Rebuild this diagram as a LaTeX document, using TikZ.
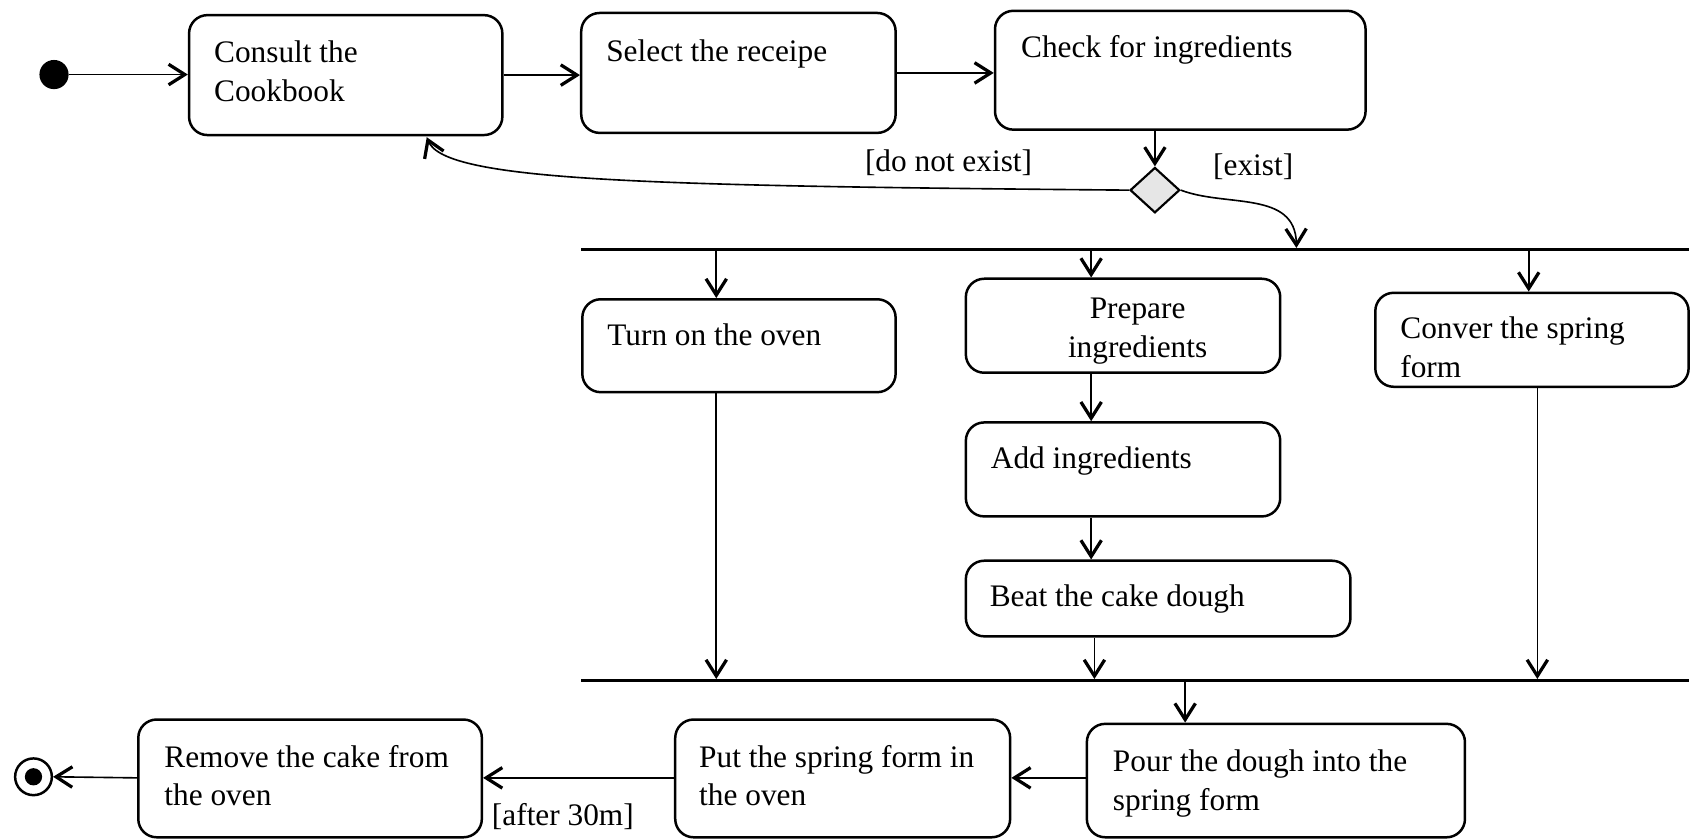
\documentclass[tikz,border=0pt]{standalone}
\usepackage{fontspec}
\setmainfont{Liberation Serif}
\usetikzlibrary{arrows.meta,shapes.geometric,calc}
\definecolor{decgray}{HTML}{E6E6E6}
\begin{document}
\begin{tikzpicture}[x=1pt,y=-1pt,
  act/.style={draw, line width=2.3pt, rounded corners=17pt, inner sep=0pt},
  txt/.style={anchor=base west, inner sep=0pt, align=left, font=\fontsize{29}{36}\selectfont},
  guard/.style={anchor=base, inner sep=0pt, font=\fontsize{29}{36}\selectfont},
  flow/.style={line width=1.5pt, -{Straight Barb[length=15pt,width=19pt,line width=3pt]}},
  bar/.style={fill=black, inner sep=0pt, minimum height=2.6pt, minimum width=1025pt},
]
\useasboundingbox (0,0) rectangle (1568,777);

% initial and final states
\node[circle, fill, minimum size=27pt, inner sep=0pt] (start) at (50,69) {};
\node[circle, draw, line width=2.3pt, minimum size=34pt, inner sep=0pt] (final) at (31,719) {};
\node[circle, fill, minimum size=16pt, inner sep=0pt] (finaldot) at (final) {};

% actions
\node[act, minimum width=290pt, minimum height=111pt] (consult) at (320,69.5) {};
\node[act, minimum width=291pt, minimum height=111pt] (select)  at (683.5,67.5) {};
\node[act, minimum width=343pt, minimum height=110pt] (check)   at (1092.5,65) {};
\node[act, minimum width=290pt, minimum height=86pt]  (turn)    at (684,320) {};
\node[act, minimum width=291pt, minimum height=87pt]  (prep)    at (1039.5,301.5) {};
\node[act, minimum width=290pt, minimum height=87pt]  (conver)  at (1418,314.5) {};
\node[act, minimum width=291pt, minimum height=87pt]  (add)     at (1039.5,434.5) {};
\node[act, minimum width=356pt, minimum height=70pt]  (beat)    at (1072,554) {};
\node[act, minimum width=350pt, minimum height=105pt] (pour)    at (1181,722.5) {};
\node[act, minimum width=310pt, minimum height=109pt] (put)     at (780,720.5) {};
\node[act, minimum width=318pt, minimum height=109pt] (remove)  at (287,720.5) {};

% action labels (multi-line labels sit on the baseline of their last line)
\node[txt] (consultT) at (198,94)  {Consult the\\Cookbook};
\node[txt] (selectT)  at (561,57)  {Select the receipe};
\node[txt] (checkT)   at (945,53)  {Check for ingredients};
\node[txt] (turnT)    at (562,320) {Turn on the oven};
\node[inner sep=0pt, anchor=base, align=center, font=\fontsize{29}{36}\selectfont] (prepT) at (1053,331) {Prepare\\ingredients};
\node[txt] (converT)  at (1296,349) {Conver the spring\\form};
\node[txt] (addT)     at (917,434) {Add ingredients};
\node[txt] (beatT)    at (916,561) {Beat the cake dough};
\node[txt] (pourT)    at (1030,750) {Pour the dough into the\\spring form};
\node[txt] (putT)     at (647,746) {Put the spring form in\\the oven};
\node[txt] (removeT)  at (152,746) {Remove the cake from\\the oven};

% decision, fork and join
\node[diamond, draw, fill=decgray, line width=2pt, inner sep=0pt, aspect=1.1,
      minimum width=46pt, minimum height=42pt] (dec) at (1069,176) {};
\node[bar] (fork) at (1050.5,231) {};
\node[bar] (join) at (1050.5,630) {};

% guards
\node[guard] (gNo)    at (878,159) {[do not exist]};
\node[guard] (gYes)   at (1160,162) {[exist]};
\node[guard] (gAfter) at (521,764) {[after 30m]};

% columns and rows used by the connectors
\coordinate (colT)  at (663,0);
\coordinate (colP)  at (1010,0);
\coordinate (colC)  at (1415,0);
\coordinate (colCj) at (1423,0);
\coordinate (colB)  at (1013,0);
\coordinate (colPo) at (1097,0);
\coordinate (colE)  at (1200,0);
\coordinate (rowB)  at (0,720);
\coordinate (back)  at (395,127);

% top row
\draw[flow] (start) -- (start -| consult.west);
\draw[flow] (consult.east) -- (consult.east -| select.west);
\draw[flow] (select.east) -- (select.east -| check.west);
\draw[flow] (dec.north |- check.south) -- (dec.north);

% decision branches
\draw[flow] (dec.west) .. controls (600,172) and (412,168) .. (back);
\draw[flow] (dec.east) .. controls (1135,192) and (1199,176) .. (fork.north -| colE);

% fork to parallel actions
\draw[flow] (fork.south -| colT) -- (turn.north -| colT);
\draw[flow] (fork.south -| colP) -- (prep.north -| colP);
\draw[flow] (fork.south -| colC) -- (conver.north -| colC);
\draw[flow] (prep.south -| colP) -- (add.north -| colP);
\draw[flow] (add.south -| colP) -- (beat.north -| colP);

% into the join
\draw[flow] (turn.south -| colT) -- (join.north -| colT);
\draw[flow] (beat.south -| colB) -- (join.north -| colB);
\draw[flow] (conver.south -| colCj) -- (join.north -| colCj);

% bottom row
\draw[flow] (join.south -| colPo) -- (pour.north -| colPo);
\draw[flow] (pour.west |- rowB) -- (put.east |- rowB);
\draw[flow] (put.west |- rowB) -- (remove.east |- rowB);
\draw[flow] (remove.west |- rowB) -- (final.east);
\end{tikzpicture}
\end{document}
